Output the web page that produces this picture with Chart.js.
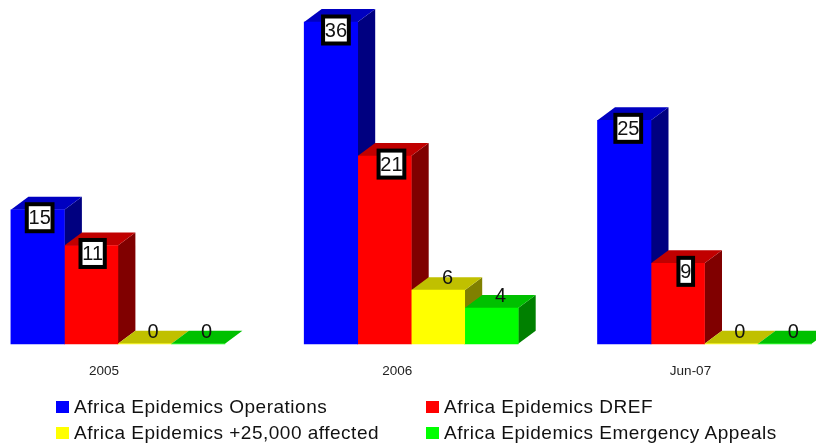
<!DOCTYPE html>
<html>
<head>
<meta charset="utf-8">
<title>Africa Epidemics</title>
<script src="https://cdn.jsdelivr.net/npm/chart.js@4"></script>
<style>
  html, body { margin: 0; background: #fff; }
  .wrap { position: relative; width: 816px; height: 444px; overflow: hidden; }
  canvas { position: absolute; left: 0; top: 0; }
  .legend-item {
    position: absolute;
    font: 19px "Liberation Sans", Arial, sans-serif;
    letter-spacing: 0.5px;
    line-height: 20px;
    color: #111;
    white-space: nowrap;
  }
  .legend-item i {
    position: absolute;
    left: -18px;
    top: 4px;
    width: 13px;
    height: 12px;
  }
</style>
</head>
<body>
<div class="wrap">
  <canvas id="chart" width="816" height="444"></canvas>
  <div id="legend"></div>
</div>
<script>
const categories = ["2005", "2006", "Jun-07"];
const operations = [15, 36, 25];
const dref = [11, 21, 9];
const affected = [0, 6, 0];
const appeals = [0, 4, 0];

const seriesNames = [
  "Africa Epidemics Operations",
  "Africa Epidemics DREF",
  "Africa Epidemics +25,000 affected",
  "Africa Epidemics Emergency Appeals",
];

// front, top and side colour of each series
const frontColors = ["#0000ff", "#ff0000", "#ffff00", "#00ff00"];
const topColors = ["#0000c0", "#c00000", "#c0c000", "#00c000"];
const sideColors = ["#000080", "#800000", "#808000", "#008000"];

const depthX = 17.5;
const depthY = 13;

// the labels of the first two series get a black framed box
const boxedSeries = [0, 1];
// sideways shift of the labels, the original does not centre them
const labelShift = [
  [2, 5, 4],
  [1.5, 7, 8],
  [8.5, 9.5, 8.5],
  [8.5, 9, 8.5],
];

function polygon(ctx, points, color) {
  ctx.fillStyle = color;
  ctx.beginPath();
  points.forEach((p, i) => (i ? ctx.lineTo(p[0], p[1]) : ctx.moveTo(p[0], p[1])));
  ctx.closePath();
  ctx.fill();
}

// side and top faces go under the fronts the library draws
const bars3d = {
  id: "bars3d",
  beforeDatasetsDraw(chart) {
    const ctx = chart.ctx;
    chart.data.datasets.forEach((ds, i) => {
      chart.getDatasetMeta(i).data.forEach((bar) => {
        const left = bar.x - bar.width / 2;
        const right = bar.x + bar.width / 2;
        polygon(ctx, [
          [right, bar.y],
          [right + depthX, bar.y - depthY],
          [right + depthX, bar.base - depthY],
          [right, bar.base],
        ], sideColors[i]);
        polygon(ctx, [
          [left, bar.y],
          [left + depthX, bar.y - depthY],
          [right + depthX, bar.y - depthY],
          [right, bar.y],
        ], topColors[i]);
      });
    });
  },
  afterDatasetsDraw(chart) {
    const ctx = chart.ctx;
    ctx.font = '20px "Liberation Sans", Arial, sans-serif';
    ctx.textAlign = "center";
    ctx.textBaseline = "middle";
    chart.data.datasets.forEach((ds, i) => {
      chart.getDatasetMeta(i).data.forEach((bar, j) => {
        const text = String(ds.data[j]);
        const x = bar.x + labelShift[i][j];
        if (boxedSeries.includes(i)) {
          const y = bar.y + 8;
          const w = ctx.measureText(text).width + 3.5;
          ctx.fillStyle = "#fff";
          ctx.strokeStyle = "#000";
          ctx.lineWidth = 4;
          ctx.fillRect(x - w / 2, y - 13.5, w, 27);
          ctx.strokeRect(x - w / 2, y - 13.5, w, 27);
          ctx.fillStyle = "#111";
          ctx.fillText(text, x, y + 1);
        } else {
          ctx.fillStyle = "#111";
          ctx.fillText(text, x, bar.y - 11.5);
        }
      });
    });
  },
};

const chart = new Chart(document.getElementById("chart").getContext("2d"), {
  type: "bar",
  data: {
    labels: categories,
    datasets: [operations, dref, affected, appeals].map((values, i) => ({
      label: seriesNames[i],
      data: values,
      backgroundColor: frontColors[i],
      barThickness: 53.5,
      clip: false,
    })),
  },
  options: {
    responsive: false,
    animation: false,
    devicePixelRatio: 1,
    layout: { padding: { left: 117.9, right: 111.5, top: 22, bottom: 46 } },
    scales: {
      x: {
        offset: false,
        border: { display: false },
        grid: { display: false, drawTicks: false },
        ticks: {
          autoSkip: false,
          maxRotation: 0,
          padding: 19,
          labelOffset: -14,
          color: "#222",
          font: { family: '"Liberation Sans", Arial, sans-serif', size: 13.5 },
        },
      },
      y: { display: false, min: 0, max: 36 },
    },
    plugins: {
      legend: { display: false },
      tooltip: { enabled: false },
    },
  },
  plugins: [bars3d],
});

// two column legend, filled from the datasets
const legendSpots = [
  [74, 397],
  [444, 397],
  [74, 423],
  [444, 423],
];
const legendBox = document.getElementById("legend");
chart.data.datasets.forEach((ds, i) => {
  const item = document.createElement("div");
  item.className = "legend-item";
  item.style.left = legendSpots[i][0] + "px";
  item.style.top = legendSpots[i][1] + "px";
  item.innerHTML = '<i style="background:' + ds.backgroundColor + '"></i>' + ds.label;
  legendBox.appendChild(item);
});
</script>
</body>
</html>
